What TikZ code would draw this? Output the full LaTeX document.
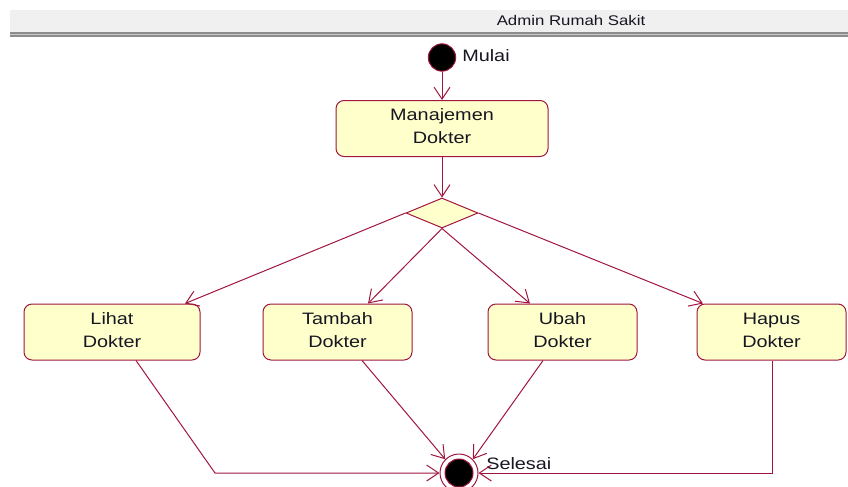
\documentclass[tikz,border=0pt]{standalone}
\usepackage{fontspec}
\usepackage{graphicx}
\setmainfont{Liberation Sans}
\usetikzlibrary{shapes.geometric,arrows.meta,calc}

\definecolor{edge}{RGB}{160,22,62}
\definecolor{actfill}{RGB}{255,255,204}
\definecolor{ink}{RGB}{22,22,34}
\definecolor{headfill}{RGB}{240,240,240}
\definecolor{rulegray}{RGB}{140,140,140}
\definecolor{rulelight}{RGB}{200,200,200}

% slightly widened glyphs, as the UML tool renders them
\newcommand{\wtext}[1]{\scalebox{1.2}[1]{#1}}

\begin{document}
\begin{tikzpicture}[
  x=0.75pt, y=-0.75pt,
  activity/.style={draw=edge, fill=actfill, line width=0.75pt,
    rounded corners=6pt, minimum height=42pt, inner sep=0pt,
    text depth=3pt,
    align=center, text=ink, font=\fontsize{12.4}{17.25}\selectfont},
  decision/.style={diamond, draw=edge, fill=actfill, line width=0.75pt,
    aspect=2.4, minimum width=54pt, minimum height=22.5pt, inner sep=0pt},
  label/.style={inner sep=0pt, text=ink, font=\fontsize{12.4}{15}\selectfont},
  flow/.style={draw=edge, line width=0.75pt,
    -{Straight Barb[length=9pt,width=12pt,line width=0.75pt]}},
]
\useasboundingbox (0,0) rectangle (848,486);
\clip (0,0) rectangle (848,486);

% swimlane header
\fill[headfill] (10,10) rectangle (848,31.8);
\fill[rulegray] (10,31.8) rectangle (848,37);
\fill[rulelight] (10,33.6) rectangle (848,35.2);
\node[inner sep=0pt, text=ink, font=\fontsize{10.5}{12}\selectfont] (title)
  at (571,20) {\wtext{Admin Rumah Sakit}};

% start
\node[circle, fill=black, draw=edge, line width=0.75pt,
  minimum size=20.5pt, inner sep=0pt] (start) at (442,57.5) {};
\node[label, anchor=west] (mulai) at (462,56) {\wtext{Mulai}};

% activities
\node[activity, minimum width=159pt] (manage) at (442,128.5)
  {\wtext{Manajemen}\\\wtext{Dokter}};
\node[decision] (dec) at (442,213) {};

\node[activity, minimum width=132pt] (lihat) at (112,332)
  {\wtext{Lihat}\\\wtext{Dokter}};
\node[activity, minimum width=111.75pt] (tambah) at (337.5,332)
  {\wtext{Tambah}\\\wtext{Dokter}};
\node[activity, minimum width=111.75pt] (ubah) at (562.5,332)
  {\wtext{Ubah}\\\wtext{Dokter}};
\node[activity, minimum width=111.75pt] (hapus) at (771.5,332)
  {\wtext{Hapus}\\\wtext{Dokter}};

% end
\node[circle, draw=edge, line width=0.75pt, minimum size=28.5pt,
  inner sep=0pt] (finish) at (459,473) {};
\node[circle, fill=black, draw=edge, line width=0.75pt, minimum size=21pt,
  inner sep=0pt] (finishdot) at (finish) {};
\node[label, anchor=west] (selesai) at (486,464) {\wtext{Selesai}};

% flows
\draw[flow] (start) -- (manage);
\draw[flow] (manage) -- (dec);
\draw[flow] (dec.west) -- ([xshift=54.75pt]lihat.north);
\draw[flow] (dec.south) -- ([xshift=22.9pt]tambah.north);
\draw[flow] (dec.south) -- ([xshift=-24.4pt]ubah.north);
\draw[flow] (dec.east) -- ([xshift=-51.4pt]hapus.north);

\draw[flow] ([xshift=18pt]lihat.south) -- (215,473) -- (finish.west);
\draw[flow] ([xshift=18.4pt]tambah.south) -- (finish.135);
\draw[flow] ([xshift=-14.6pt]ubah.south) -- (finish.45);
\draw[flow] ([xshift=1.1pt]hapus.south) |- (finish.east);
\end{tikzpicture}
\end{document}
